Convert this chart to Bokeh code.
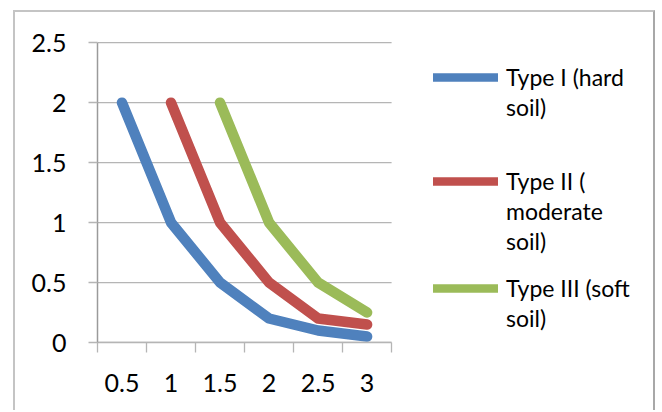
import numpy as np
from bokeh.plotting import figure
from bokeh.models import FixedTicker, Legend, LegendItem, Range1d
from bokeh.embed import file_html
from bokeh.resources import INLINE

categories = [0.5, 1, 1.5, 2, 2.5, 3]
cat_labels = ["0.5", "1", "1.5", "2", "2.5", "3"]
cat_edges = [0.25, 0.75, 1.25, 1.75, 2.25, 2.75, 3.25]
type1 = [2, 1, 0.5, 0.2, 0.1, 0.05]
type2 = [np.nan, 2, 1, 0.5, 0.2, 0.15]
type3 = [np.nan, np.nan, 2, 1, 0.5, 0.25]
y_ticks = [0, 0.5, 1, 1.5, 2, 2.5]
y_labels = ["0", "0.5", "1", "1.5", "2", "2.5"]
legend_lines = [["Type I (hard", "soil)"],
                ["Type II (", "moderate", "soil)"],
                ["Type III (soft", "soil)"]]
colors = ["#4F81BD", "#C0504D", "#9BBB59"]

FONT = "Lato"
GRID = "#b5b5b5"
AXIS = "#9a9a9a"

# plot area: 292 px for the 6 categories, 298 px for 0..2.5; extended right/up for the legend
px_x = 292 / 3.0
px_y = 298 / 2.5
x_end = 0.25 + 556 / px_x
y_end = 2.5 + 30 / px_y

p = figure(width=638, height=398, output_backend="svg", toolbar_location=None,
           x_range=Range1d(0.25, x_end), y_range=Range1d(0, y_end),
           min_border_left=82, min_border_right=0, min_border_top=0, min_border_bottom=70,
           margin=(10, 0, 0, 13))
p.styles = {"border-top": "2px solid #c4c4c4", "border-left": "2px solid #c4c4c4",
            "border-right": "2px solid #a8a8a8", "box-sizing": "content-box"}
p.outline_line_color = None
p.background_fill_color = "white"
p.border_fill_color = "white"

# horizontal gridlines limited to the category area
p.segment(x0=[cat_edges[0]] * len(y_ticks), x1=[cat_edges[-1]] * len(y_ticks),
          y0=y_ticks, y1=y_ticks, line_color=GRID, line_width=1.3)
p.xgrid.grid_line_color = None
p.ygrid.grid_line_color = None

for ys, c in zip([type1, type2, type3], colors):
    p.line(categories, ys, line_color=c, line_width=10.5, line_cap="round", line_join="round")

p.xaxis.ticker = FixedTicker(ticks=categories, minor_ticks=cat_edges)
p.xaxis.bounds = (cat_edges[0], cat_edges[-1])
p.xaxis.major_label_overrides = {c: l for c, l in zip(categories, cat_labels)}
p.xaxis.major_tick_line_color = None
p.xaxis.major_tick_out = 0
p.xaxis.major_tick_in = 0
p.xaxis.minor_tick_out = 10
p.xaxis.minor_tick_in = 0
p.xaxis.minor_tick_line_color = GRID
p.xaxis.minor_tick_line_width = 1.3
p.xaxis.axis_line_color = GRID
p.xaxis.axis_line_width = 1.3
p.xaxis.major_label_standoff = 21

p.yaxis.ticker = FixedTicker(ticks=y_ticks, minor_ticks=[])
p.yaxis.bounds = (0, 2.5)
p.yaxis.major_label_overrides = {t: l for t, l in zip(y_ticks, y_labels)}
p.yaxis.major_tick_out = 9
p.yaxis.major_tick_in = 0
p.yaxis.major_tick_line_color = GRID
p.yaxis.major_tick_line_width = 1.3
p.yaxis.minor_tick_line_color = None
p.yaxis.axis_line_color = AXIS
p.yaxis.axis_line_width = 1.5
p.yaxis.major_label_standoff = 22

for ax in (p.xaxis, p.yaxis):
    ax.major_label_text_font = FONT
    ax.major_label_text_font_size = "25px"
    ax.major_label_text_color = "#000000"

# legend: one small legend per series so that the sample sits on the first text line
dummy = p.line([np.nan], [np.nan], line_alpha=0)
legend_bottoms = [220, 86, 9]
for lines, c, vy in zip(legend_lines, colors, legend_bottoms):
    proxy = p.line([np.nan], [np.nan], line_color=c, line_width=8.5, line_cap="round")
    items = [LegendItem(label=lines[0], renderers=[proxy])]
    items += [LegendItem(label=t, renderers=[dummy]) for t in lines[1:]]
    lg = Legend(items=items, location=(336, vy), glyph_width=65, glyph_height=20,
                label_height=30, label_standoff=8,
                label_text_font=FONT, label_text_font_size="23px", label_text_color="#000000",
                spacing=0, padding=0, margin=0,
                border_line_color=None, background_fill_alpha=0)
    p.add_layout(lg, "center")

open("out.html", "w").write(file_html(p, INLINE))
